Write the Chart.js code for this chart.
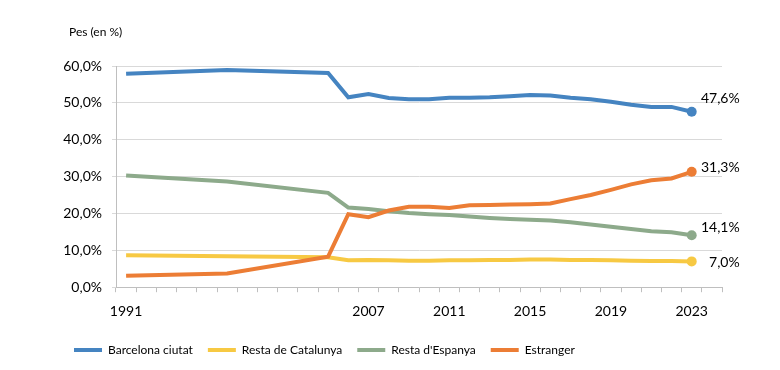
<!DOCTYPE html>
<html>
<head>
<meta charset="utf-8">
<script src="https://cdn.jsdelivr.net/npm/chart.js@4.4.1/dist/chart.umd.min.js"></script>
<style>
    html, body { margin: 0; padding: 0; background: #fff; }
    #wrap { width: 780px; height: 370px; position: relative; }
</style>
</head>
<body>
<div id="wrap"><canvas id="pesChart"></canvas></div>
<script>
        // Categories (gaps between census years are empty slots)
        const years = ['1991', '', '', '', '', '1996', '', '', '', '', '2001',
            '2006', '2007', '2008', '2009', '2010', '2011', '2012', '2013', '2014', '2015',
            '2016', '2017', '2018', '2019', '2020', '2021', '2022', '2023', ''];

        const barcelona = [57.9, null, null, null, null, 58.9, null, null, null, null, 58.1,
            51.5, 52.4, 51.3, 51.0, 51.0, 51.4, 51.4, 51.5, 51.8, 52.1,
            52.0, 51.4, 51.0, 50.3, 49.5, 48.9, 48.9, 47.6, null];
        const restaCatalunya = [8.7, null, null, null, null, 8.4, null, null, null, null, 8.1,
            7.3, 7.4, 7.3, 7.2, 7.2, 7.3, 7.3, 7.4, 7.4, 7.5,
            7.5, 7.4, 7.4, 7.3, 7.2, 7.1, 7.1, 7.0, null];
        const restaEspanya = [30.3, null, null, null, null, 28.7, null, null, null, null, 25.6,
            21.6, 21.2, 20.6, 20.1, 19.8, 19.6, 19.2, 18.8, 18.5, 18.3,
            18.1, 17.6, 17.0, 16.4, 15.8, 15.2, 14.9, 14.1, null];
        const estranger = [3.1, null, null, null, null, 3.7, null, null, null, null, 8.3,
            19.8, 19.0, 20.8, 21.8, 21.8, 21.5, 22.2, 22.3, 22.4, 22.5,
            22.7, 23.9, 25.0, 26.4, 27.9, 29.0, 29.5, 31.3, null];

        const yTicks = [0, 10, 20, 30, 40, 50, 60];
        const lastIdx = 28;

        const fmt = v => v.toFixed(1).replace('.', ',') + '%';
        const fontFamily = 'Lato, "Open Sans", sans-serif';
        const tickFont = { family: fontFamily, size: 14 };

        function series(label, data, color, order, labelDy) {
            return {
                label: label,
                data: data,
                borderColor: color,
                backgroundColor: color,
                borderWidth: 4,
                tension: 0,
                spanGaps: true,
                order: order,
                labelDy: labelDy,
                pointRadius: c => c.dataIndex === lastIdx ? 5 : 0,
                pointHoverRadius: 5,
                pointBorderWidth: 0,
                pointBackgroundColor: color
            };
        }

        // End-of-line value labels + the little axis caption
        const endLabels = {
            id: 'endLabels',
            afterDatasetsDraw(chart) {
                const ctx = chart.ctx;
                ctx.save();
                ctx.fillStyle = '#000';
                ctx.font = '14px ' + fontFamily;
                ctx.textAlign = 'right';
                ctx.textBaseline = 'middle';
                chart.data.datasets.forEach((ds, i) => {
                    const pt = chart.getDatasetMeta(i).data[lastIdx];
                    ctx.fillText(fmt(ds.data[lastIdx]), pt.x + 48, pt.y + ds.labelDy);
                });
                ctx.font = '12px ' + fontFamily;
                ctx.textAlign = 'left';
                ctx.fillText('Pes (en %)', chart.chartArea.left - 47, 32);
                ctx.restore();
            }
        };

        const pesCtx = document.getElementById('pesChart').getContext('2d');
        const pesChart = new Chart(pesCtx, {
            type: 'line',
            data: {
                labels: years,
                datasets: [
                    series('Barcelona ciutat', barcelona, '#4584C1', 4, -13),
                    series('Resta de Catalunya', restaCatalunya, '#F7C943', 3, 1),
                    series("Resta d'Espanya", restaEspanya, '#8DAA8B', 2, -8),
                    series('Estranger', estranger, '#EC7D35', 1, -4)
                ]
            },
            options: {
                responsive: true,
                maintainAspectRatio: false,
                animation: false,
                layout: {
                    padding: { left: 59, right: 58, top: 66, bottom: 4 }
                },
                plugins: {
                    legend: {
                        position: 'bottom',
                        align: 'start',
                        labels: {
                            usePointStyle: true,
                            pointStyle: 'line',
                            pointStyleWidth: 28,
                            boxWidth: 24,
                            padding: 15,
                            color: '#000',
                            font: { family: fontFamily, size: 12 },
                            sort: (a, b) => a.datasetIndex - b.datasetIndex,
                            generateLabels: function(chart) {
                                const items = Chart.defaults.plugins.legend.labels.generateLabels(chart);
                                return items.map(item => Object.assign(item, {
                                    lineWidth: 4,
                                    strokeStyle: chart.data.datasets[item.datasetIndex].borderColor
                                }));
                            }
                        }
                    },
                    tooltip: { enabled: false }
                },
                scales: {
                    x: {
                        type: 'category',
                        offset: true,
                        afterFit: function(scale) { scale.height -= 2; },
                        grid: {
                            offset: true,
                            drawOnChartArea: false,
                            tickLength: 5,
                            color: '#bfbfbf'
                        },
                        border: { color: '#bfbfbf' },
                        ticks: {
                            autoSkip: false,
                            maxRotation: 0,
                            padding: 11,
                            color: '#000',
                            font: tickFont,
                            callback: function(value, index) {
                                return index % 4 === 0 ? years[index] : '';
                            }
                        }
                    },
                    y: {
                        min: yTicks[0],
                        max: yTicks[yTicks.length - 1],
                        afterFit: function(scale) { scale.width = 57; },
                        afterBuildTicks: function(scale) {
                            scale.ticks = yTicks.map(v => ({ value: v }));
                        },
                        grid: { color: '#d9d9d9', tickLength: 4 },
                        border: { color: '#bfbfbf' },
                        ticks: {
                            padding: 10,
                            color: '#000',
                            font: tickFont,
                            callback: function(value) { return fmt(value); }
                        }
                    }
                }
            },
            plugins: [endLabels]
        });
</script>
</body>
</html>
